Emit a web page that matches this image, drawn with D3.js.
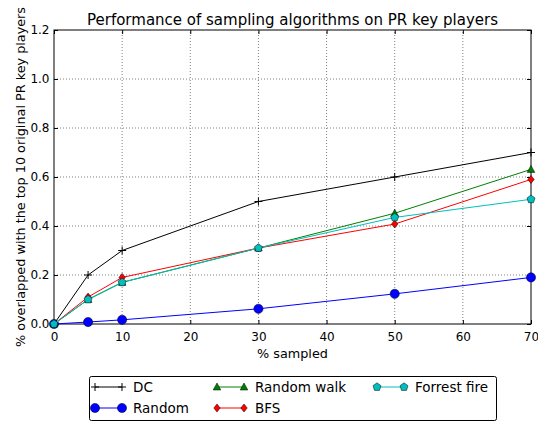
<!DOCTYPE html>
<html>
<head>
<meta charset="utf-8">
<script src="https://cdn.jsdelivr.net/npm/d3@7"></script>
<style>
  html, body { margin: 0; padding: 0; background: #fff; }
  svg { display: block; font-family: "DejaVu Sans", sans-serif; }
</style>
</head>
<body>
<svg id="chart" width="538" height="421"></svg>
<script>
// Sample sizes (% of nodes sampled)
const sampled = [0, 5, 10, 30, 50, 70];

// Overlap with the top 10 original PR key players, per sampling algorithm
const dcValues = [0, 0.20, 0.30, 0.50, 0.60, 0.70];
const randomValues = [0, 0.008, 0.017, 0.062, 0.123, 0.19];
const randomWalkValues = [0, 0.10, 0.17, 0.31, 0.452, 0.631];
const bfsValues = [0, 0.11, 0.19, 0.31, 0.408, 0.59];
const forrestFireValues = [0, 0.10, 0.17, 0.31, 0.435, 0.509];

const xTicks = [0, 10, 20, 30, 40, 50, 60, 70];
const yTicks = [0.0, 0.2, 0.4, 0.6, 0.8, 1.0, 1.2];

const series = [
  { name: "DC", values: dcValues, color: "#000000", marker: "plus" },
  { name: "Random", values: randomValues, color: "#0000ff", marker: "circle" },
  { name: "Random walk", values: randomWalkValues, color: "#008000", marker: "triangle" },
  { name: "BFS", values: bfsValues, color: "#ff0000", marker: "diamond" },
  { name: "Forrest fire", values: forrestFireValues, color: "#00bfbf", marker: "pentagon" }
];

const svg = d3.select("#chart");
const margin = { left: 54, right: 531, top: 30, bottom: 324 };

const x = d3.scaleLinear().domain([0, 70]).range([margin.left, margin.right]);
const y = d3.scaleLinear().domain([0, 1.2]).range([margin.bottom, margin.top]);

// Grid
const grid = svg.append("g");
xTicks.slice(1, -1).forEach(t => {
  grid.append("line").attr("x1", x(t)).attr("x2", x(t)).attr("y1", y(0)).attr("y2", y(1.2))
    .attr("stroke", "#000").attr("stroke-width", 0.5).attr("stroke-dasharray", "1,2");
});
yTicks.slice(1, -1).forEach(t => {
  grid.append("line").attr("x1", x(0)).attr("x2", x(70)).attr("y1", y(t)).attr("y2", y(t))
    .attr("stroke", "#000").attr("stroke-width", 0.5).attr("stroke-dasharray", "1,2");
});

// Axes with inward ticks on all four sides
const bottomAxis = d3.axisBottom(x).tickValues(xTicks).tickFormat(d3.format("d")).tickSizeInner(-4).tickSizeOuter(0).tickPadding(8);
const leftAxis = d3.axisLeft(y).tickValues(yTicks).tickFormat(d3.format(".1f")).tickSizeInner(-4).tickSizeOuter(0).tickPadding(4.5);
const topAxis = d3.axisTop(x).tickValues(xTicks).tickFormat("").tickSizeInner(-4).tickSizeOuter(0);
const rightAxis = d3.axisRight(y).tickValues(yTicks).tickFormat("").tickSizeInner(-4).tickSizeOuter(0);

function styleAxis(g) {
  g.select(".domain").remove();
  g.selectAll(".tick line").attr("stroke", "#000");
  g.selectAll(".tick text").attr("fill", "#000").style("font-size", "12px").style("font-family", "DejaVu Sans, sans-serif");
}
svg.append("g").attr("transform", `translate(0,${y(0)})`).call(bottomAxis).call(styleAxis);
svg.append("g").attr("transform", `translate(${x(0)},0)`).call(leftAxis).call(styleAxis);
svg.append("g").attr("transform", `translate(0,${y(1.2)})`).call(topAxis).call(styleAxis);
svg.append("g").attr("transform", `translate(${x(70)},0)`).call(rightAxis).call(styleAxis);

// Frame
svg.append("rect").attr("x", x(0)).attr("y", y(1.2)).attr("width", x(70) - x(0)).attr("height", y(0) - y(1.2))
  .attr("fill", "none").attr("stroke", "#000").attr("stroke-width", 1);

// Marker shapes
function drawMarker(g, kind, cx, cy, color) {
  if (kind === "plus") {
    g.append("path").attr("d", `M${cx - 4},${cy}H${cx + 4}M${cx},${cy - 4}V${cy + 4}`)
      .attr("stroke", color).attr("stroke-width", 1).attr("fill", "none");
  } else if (kind === "circle") {
    g.append("circle").attr("cx", cx).attr("cy", cy).attr("r", 4.6)
      .attr("fill", color).attr("stroke", "#000").attr("stroke-width", 0.5);
  } else if (kind === "triangle") {
    g.append("path").attr("d", `M${cx},${cy - 4}L${cx + 3.8},${cy + 3}L${cx - 3.8},${cy + 3}Z`)
      .attr("fill", color).attr("stroke", "#000").attr("stroke-width", 0.5);
  } else if (kind === "diamond") {
    g.append("path").attr("d", `M${cx},${cy - 4}L${cx + 3.2},${cy}L${cx},${cy + 4}L${cx - 3.2},${cy}Z`)
      .attr("fill", color).attr("stroke", "#000").attr("stroke-width", 0.5);
  } else if (kind === "pentagon") {
    const pts = d3.range(5).map(i => {
      const a = -Math.PI / 2 + i * 2 * Math.PI / 5;
      return [cx + 4.2 * Math.cos(a), cy + 4.2 * Math.sin(a)];
    });
    g.append("path").attr("d", "M" + pts.map(p => p.join(",")).join("L") + "Z")
      .attr("fill", color).attr("stroke", "#000").attr("stroke-width", 0.5);
  }
}

const line = d3.line().x(d => x(d[0])).y(d => y(d[1]));
const plot = svg.append("g");
series.forEach(s => {
  const pts = sampled.map((v, i) => [v, s.values[i]]);
  const g = plot.append("g");
  g.append("path").attr("d", line(pts)).attr("fill", "none").attr("stroke", s.color).attr("stroke-width", 1);
  pts.forEach(p => drawMarker(g, s.marker, x(p[0]), y(p[1]), s.color));
});

// Title and axis labels
svg.append("text").attr("x", (x(0) + x(70)) / 2).attr("y", 25).attr("text-anchor", "middle")
  .style("font-size", "15px").text("Performance of sampling algorithms on PR key players");
svg.append("text").attr("x", (x(0) + x(70)) / 2).attr("y", 358).attr("text-anchor", "middle")
  .style("font-size", "12.8px").text("% sampled");
svg.append("text").attr("transform", `translate(24.5,${(y(0) + y(1.2)) / 2}) rotate(-90)`).attr("text-anchor", "middle")
  .style("font-size", "12.8px").text("% overlapped with the top 10 original PR key players");

// Legend
const legend = svg.append("g");
legend.append("rect").attr("x", 89.5).attr("y", 376.5).attr("width", 407).attr("height", 44).attr("rx", 2)
  .attr("fill", "#fff").attr("stroke", "#000").attr("stroke-width", 1);
const colX = [95, 217, 377];
const rowY = [387, 408];
series.forEach((s, i) => {
  const col = Math.floor(i / 2), row = i % 2;
  const lx = colX[col], ly = rowY[row];
  const g = legend.append("g");
  g.append("line").attr("x1", lx).attr("x2", lx + 27).attr("y1", ly).attr("y2", ly).attr("stroke", s.color).attr("stroke-width", 1);
  drawMarker(g, s.marker, lx, ly, s.color);
  drawMarker(g, s.marker, lx + 27, ly, s.color);
  g.append("text").attr("x", lx + 38).attr("y", ly + 5).style("font-size", "13.5px").text(s.name);
});
</script>
</body>
</html>
